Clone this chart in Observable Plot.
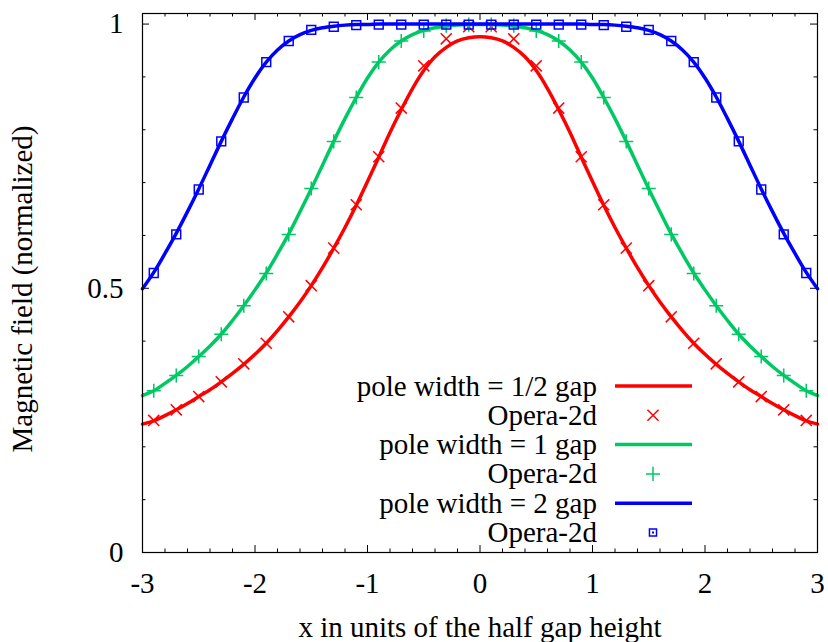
<!DOCTYPE html>
<html>
<head>
<meta charset="utf-8">
<script src="https://cdn.jsdelivr.net/npm/d3@7"></script>
<script src="https://cdn.jsdelivr.net/npm/@observablehq/plot@0.6"></script>
<style>
  html, body { margin: 0; padding: 0; background: #fff; }
  #chart { width: 828px; height: 642px; }
</style>
</head>
<body>
<div id="chart"></div>
<script>
// ---------- data ----------
const xs = [-3,-2.9,-2.8,-2.7,-2.6,-2.5,-2.4,-2.3,-2.2,-2.1,-2,-1.9,-1.8,-1.7,-1.6,-1.5,-1.4,-1.3,-1.2,-1.1,-1,-0.9,-0.8,-0.7,-0.6,-0.5,-0.4,-0.3,-0.2,-0.1,0,
  0.1,0.2,0.3,0.4,0.5,0.6,0.7,0.8,0.9,1,1.1,1.2,1.3,1.4,1.5,1.6,1.7,1.8,1.9,2,2.1,2.2,2.3,2.4,2.5,2.6,2.7,2.8,2.9,3];

const redCurve = [0.243,0.249,0.259,0.270,0.282,0.295,0.308,0.323,0.339,0.356,0.375,0.396,0.420,0.446,0.474,0.505,0.539,0.576,0.615,0.657,0.702,0.748,0.795,0.838,0.878,0.912,0.938,0.956,0.968,0.974,0.976,
  0.974,0.968,0.956,0.938,0.912,0.878,0.838,0.795,0.748,0.702,0.657,0.615,0.576,0.539,0.505,0.474,0.446,0.420,0.396,0.375,0.356,0.339,0.323,0.308,0.295,0.282,0.270,0.259,0.249,0.243];

const greenCurve = [0.297,0.306,0.320,0.335,0.352,0.371,0.391,0.413,0.439,0.467,0.497,0.529,0.565,0.603,0.645,0.688,0.733,0.778,0.821,0.861,0.898,0.928,0.951,0.968,0.980,0.988,0.993,0.996,0.998,0.999,0.999,
  0.999,0.998,0.996,0.993,0.988,0.980,0.968,0.951,0.928,0.898,0.861,0.821,0.778,0.733,0.688,0.645,0.603,0.565,0.529,0.497,0.467,0.439,0.413,0.391,0.371,0.352,0.335,0.320,0.306,0.297];

const blueCurve = [0.499,0.530,0.566,0.604,0.645,0.688,0.733,0.778,0.821,0.862,0.898,0.928,0.951,0.968,0.980,0.988,0.993,0.996,0.998,0.999,0.999,1.0,1.0,1.0,1.0,1.0,1.0,1.0,1.0,1.0,1.0,
  1.0,1.0,1.0,1.0,1.0,1.0,1.0,1.0,1.0,0.999,0.999,0.998,0.996,0.993,0.988,0.980,0.968,0.951,0.928,0.898,0.862,0.821,0.778,0.733,0.688,0.645,0.604,0.566,0.530,0.499];

const operaX = [-2.9,-2.7,-2.5,-2.3,-2.1,-1.9,-1.7,-1.5,-1.3,-1.1,-0.9,-0.7,-0.5,-0.3,-0.1,
  0.1,0.3,0.5,0.7,0.9,1.1,1.3,1.5,1.7,1.9,2.1,2.3,2.5,2.7,2.9];

const redOpera = [0.250,0.270,0.295,0.323,0.357,0.396,0.446,0.505,0.576,0.658,0.749,0.841,0.921,0.972,0.995,
  0.995,0.972,0.921,0.841,0.749,0.658,0.576,0.505,0.446,0.396,0.357,0.323,0.295,0.270,0.250];

const greenOpera = [0.306,0.335,0.371,0.413,0.467,0.528,0.602,0.689,0.778,0.861,0.928,0.968,0.987,0.997,0.999,
  0.999,0.997,0.987,0.968,0.928,0.861,0.778,0.689,0.602,0.528,0.467,0.413,0.371,0.335,0.306];

const blueOpera = [0.529,0.602,0.687,0.778,0.861,0.928,0.968,0.989,0.995,0.998,0.999,0.999,0.999,0.999,0.999,
  0.999,0.999,0.999,0.999,0.999,0.998,0.995,0.989,0.968,0.928,0.861,0.778,0.687,0.602,0.529];

const xMajor = [-3,-2,-1,0,1,2,3];
const xMinor = [-2.8,-2.6,-2.4,-2.2,-1.8,-1.6,-1.4,-1.2,-0.8,-0.6,-0.4,-0.2,0.2,0.4,0.6,0.8,1.2,1.4,1.6,1.8,2.2,2.4,2.6,2.8];
const yMajor = [0,0.5,1];
const yMinor = [0.1,0.2,0.3,0.4,0.6,0.7,0.8,0.9];

const xLabel = "x in units of the half gap height";
const yLabel = "Magnetic field (normalized)";

const legendLabels = ["pole width = 1/2 gap","Opera-2d","pole width = 1 gap","Opera-2d","pole width = 2 gap","Opera-2d"];

const RED = "#ff0000", GREEN = "#00c864", BLUE = "#0000ff";

// ---------- tables ----------
const curve = (ys) => xs.map((x, i) => ({x, y: ys[i]}));
const pts = (ys) => operaX.map((x, i) => ({x, y: ys[i]}));

// ---------- layout ----------
const W = 828, H = 642, mL = 142, mR = 11, mT = 13, mB = 90;
const FH = H - mT - mB, FW = W - mL - mR;
const FONT = "'Liberation Serif', 'Times New Roman', serif";
const FS = 29;
const MAJ = 7, MIN = 3.5;

const chart = Plot.plot({
  width: W, height: H,
  marginLeft: mL, marginRight: mR, marginTop: mT, marginBottom: mB,
  style: {fontFamily: FONT, fontSize: FS + "px", background: "white", color: "black", overflow: "visible"},
  x: {domain: [-3, 3]},
  y: {domain: [0, 1.02]},
  marks: [
    // inward ticks on all four sides
    Plot.tickX(xMajor, {x: d => d, insetTop: FH - MAJ, stroke: "black"}),
    Plot.tickX(xMajor, {x: d => d, insetBottom: FH - MAJ, stroke: "black"}),
    Plot.tickX(xMinor, {x: d => d, insetTop: FH - MIN, stroke: "black"}),
    Plot.tickX(xMinor, {x: d => d, insetBottom: FH - MIN, stroke: "black"}),
    Plot.tickY(yMajor, {y: d => d, insetRight: FW - MAJ, stroke: "black"}),
    Plot.tickY(yMajor, {y: d => d, insetLeft: FW - MAJ, stroke: "black"}),
    Plot.tickY(yMinor, {y: d => d, insetRight: FW - MIN, stroke: "black"}),
    Plot.tickY(yMinor, {y: d => d, insetLeft: FW - MIN, stroke: "black"}),
    Plot.axisX({ticks: xMajor, tickSize: 0, tickPadding: 20, tickFormat: d => String(d), label: null, fontSize: FS}),
    Plot.axisY({ticks: yMajor, tickSize: 0, tickPadding: 19, tickFormat: d => String(d), label: null, fontSize: FS}),
    Plot.text([xLabel], {frameAnchor: "bottom", dy: 84, fontSize: FS, text: d => d}),
    Plot.text([yLabel], {frameAnchor: "left", textAnchor: "middle", dx: -120, dy: 6, rotate: -90, fontSize: FS, text: d => d}),
    // data
    Plot.line(curve(redCurve), {x: "x", y: "y", stroke: RED, strokeWidth: 3.5, curve: "catmull-rom"}),
    Plot.dot(pts(redOpera), {x: "x", y: "y", symbol: "times", r: 5.1, stroke: RED, strokeWidth: 1.5}),
    Plot.line(curve(greenCurve), {x: "x", y: "y", stroke: GREEN, strokeWidth: 3.5, curve: "catmull-rom"}),
    Plot.dot(pts(greenOpera), {x: "x", y: "y", symbol: "plus", r: 4.6, stroke: GREEN, strokeWidth: 1.5}),
    Plot.line(curve(blueCurve), {x: "x", y: "y", stroke: BLUE, strokeWidth: 3.5, curve: "catmull-rom"}),
    Plot.dot(pts(blueOpera), {x: "x", y: "y", symbol: "square", r: 5.0, fill: "none", stroke: BLUE, strokeWidth: 1.5}),
    Plot.frame({stroke: "black", strokeWidth: 1.2})
  ]
});

// ---------- legend (inside plot area, lower middle) ----------
const svg = d3.select(chart);
const lg = svg.append("g").attr("font-family", FONT).attr("font-size", FS);
const legendKinds = [
  {kind: "line", color: RED}, {kind: "times", color: RED},
  {kind: "line", color: GREEN}, {kind: "plus", color: GREEN},
  {kind: "line", color: BLUE}, {kind: "square", color: BLUE}
];
const LX_TEXT = 597, LX1 = 615, LX2 = 692, LY0 = 386, LDY = 29.3;
legendLabels.forEach((label, i) => {
  const y = LY0 + i * LDY;
  const k = legendKinds[i];
  lg.append("text").attr("x", LX_TEXT).attr("y", y).attr("dy", "0.33em")
    .attr("text-anchor", "end").attr("fill", "black").text(label);
  if (k.kind === "line") {
    lg.append("line").attr("x1", LX1).attr("x2", LX2).attr("y1", y).attr("y2", y)
      .attr("stroke", k.color).attr("stroke-width", 3.5);
  } else {
    const cx = (LX1 + LX2) / 2 - 0.5;
    const sym = k.kind === "times" ? d3.symbolTimes : k.kind === "plus" ? d3.symbolPlus : d3.symbolSquare;
    const r = k.kind === "times" ? 5.1 : k.kind === "plus" ? 4.6 : 4.0;
    lg.append("path").attr("transform", `translate(${cx},${y})`)
      .attr("d", d3.symbol(sym, r * r * Math.PI)())
      .attr("fill", "none").attr("stroke", k.color).attr("stroke-width", 1.5);
    if (k.kind === "square") {
      lg.append("rect").attr("x", cx - 1).attr("y", y - 1).attr("width", 2).attr("height", 2).attr("fill", k.color);
    }
  }
});

document.getElementById("chart").appendChild(chart);
</script>
</body>
</html>
